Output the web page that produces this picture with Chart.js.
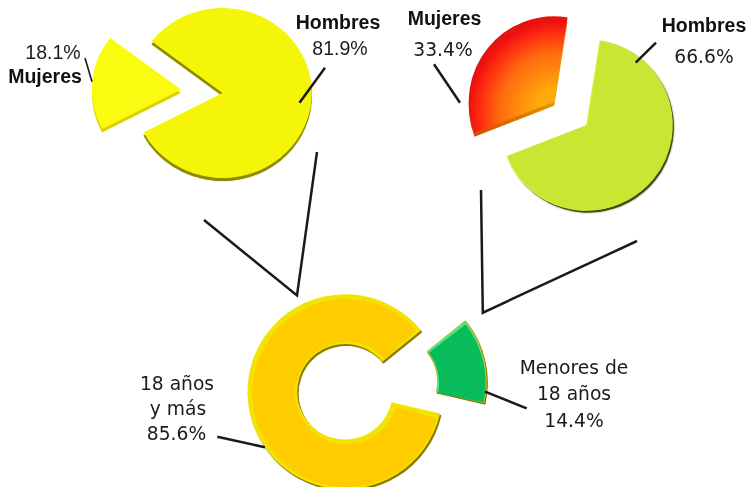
<!DOCTYPE html>
<html lang="es">
<head>
<meta charset="utf-8">
<title>Gráficos de sectores</title>
<script src="https://cdn.jsdelivr.net/npm/chart.js@4"></script>
<style>
html,body{margin:0;padding:0;background:#fff;overflow:hidden}
#stage{position:relative;width:748px;height:487px;overflow:hidden}
#stage canvas{position:absolute;left:0;top:0}
#stage svg{position:absolute;left:0;top:0}
.t{position:absolute;white-space:nowrap;color:#1c1c1c;line-height:1;transform:translate(-50%,-100%)}
.b{font:bold 19.5px "Liberation Sans",Arial,sans-serif;color:#111}
.a{font:19.5px "Liberation Sans",Arial,sans-serif}
.v{font:18.7px "DejaVu Sans",Verdana,sans-serif}
</style>
</head>
<body>
<div id="stage">
<canvas id="cLeft" width="748" height="487"></canvas>
<canvas id="cRight" width="748" height="487"></canvas>
<canvas id="cBottom" width="748" height="487"></canvas>
<svg id="lines" width="748" height="487"></svg>
</div>
<script>
// ---------- data ----------
const leftLabels = ['Hombres', 'Mujeres'];
const leftValues = [81.9, 18.1];
const rightLabels = ['Hombres', 'Mujeres'];
const rightValues = [66.6, 33.4];
const bottomLabels = ['18 años y más', 'Menores de 18 años'];
const bottomValues = [85.6, 14.4];

// ---------- text and leader lines (layout) ----------
const captions = [
  ['Hombres', 338, 30, 'b'], ['81.9%', 340, 56, 'a'],
  ['18.1%', 53, 60, 'a'], ['Mujeres', 45, 83.5, 'b'],
  ['Mujeres', 444.5, 25.5, 'b'], ['33.4%', 443, 56, 'v'],
  ['Hombres', 704, 33.2, 'b'], ['66.6%', 704, 63, 'v'],
  ['18 años', 177, 390, 'v'], ['y más', 178, 415, 'v'], ['85.6%', 176.5, 440, 'v'],
  ['Menores de', 574, 374, 'v'], ['18 años', 574, 400, 'v'], ['14.4%', 574, 427, 'v']
];
const connectors = [
  [[204, 220], [297, 295.5], [317, 152]],
  [[481, 190], [482.8, 312.7], [637, 241]]
];
const leaders = [
  [325, 67.7, 299.5, 102.7, 2.5], [85, 58, 92, 81.7, 1.6],
  [434, 64.3, 460, 102.7, 2.5], [656, 42.7, 635.7, 62.7, 2.5],
  [217.3, 436.7, 265, 447.3, 2.5], [485, 391.7, 526.7, 408.3, 2.5]
];

// ---------- paints ----------
function redFace(ctx, arc) {
  const g = ctx.createRadialGradient(arc.x + 5, arc.y + 10, 0, arc.x + 5, arc.y + 10, 100);
  g.addColorStop(0, '#FFB60A');
  g.addColorStop(0.25, '#FFA80A');
  g.addColorStop(0.6, '#FF6A0E');
  g.addColorStop(0.8, '#FF2A10');
  g.addColorStop(0.9, '#F01010');
  g.addColorStop(1, '#D81414');
  return g;
}
function redSide(ctx, arc) {
  const g = ctx.createLinearGradient(arc.x - 85, arc.y, arc.x, arc.y);
  g.addColorStop(0, '#D84600');
  g.addColorStop(1, '#DE9A00');
  return g;
}

// Each slice is painted as a stack of library arcs to give the bevelled 3-D look.
const leftStyle = [
  { explode: 0, layers: [{ dx: 0, dy: 3, color: '#8C8C00', blur: 1 }, { color: '#F4F508' }] },
  { explode: 41.6, layers: [{ dx: 0, dy: 3.5, color: '#DCD200' }, { color: '#FBFB12' }] }
];
const rightStyle = [
  { explode: 0, layers: [{ dx: 1, dy: 2, color: '#3E4A10', blur: 2 }, { dx: -1.2, dy: 0.3, color: '#DDF23C' }, { color: '#C8E632' }] },
  { explode: 39.3, layers: [{ dx: -2.5, dy: 5.5, color: redSide }, { dx: -2.5, dy: 1.5, color: redFace }] }
];
const bottomStyle = [
  { explode: 0, layers: [{ dx: 1.2, dy: 1.8, color: '#8C7A00', blur: 1 }, { color: '#F2E400' }, { dx: 1.3, dy: 1.3, inset: 3.4, color: '#FFCC00' }] },
  { explode: 45.5, layers: [{ dx: 0.8, dy: 1.2, color: '#807400', blur: 1 }, { color: '#C8BE20' }, { inset: 1, color: '#44E894' }, { dx: 0.4, dy: 1.6, inset: 1.6, color: '#08BC5C' }] }
];

function sliceStack(style, stretchX) {
  return {
    id: 'sliceStack',
    beforeDatasetDraw(chart, args) {
      const ctx = chart.ctx;
      args.meta.data.forEach((arc, i) => {
        const s = style[i];
        const mid = (arc.startAngle + arc.endAngle) / 2;
        const ex = Math.cos(mid) * s.explode, ey = Math.sin(mid) * s.explode;
        s.layers.forEach(l => {
          const inset = l.inset || 0;
          const copy = Object.create(arc);
          const meanR = (arc.outerRadius + arc.innerRadius) / 2;
          copy.outerRadius = arc.outerRadius - inset;
          copy.innerRadius = arc.innerRadius > 0 ? arc.innerRadius + inset : 0;
          copy.startAngle = arc.startAngle + inset / meanR;
          copy.endAngle = arc.endAngle - inset / meanR;
          copy.circumference = copy.endAngle - copy.startAngle;
          copy.options = Object.assign({}, arc.options, {
            backgroundColor: typeof l.color === 'function' ? l.color(ctx, arc) : l.color,
            borderWidth: 0, offset: 0
          });
          ctx.save();
          ctx.translate(ex + (l.dx || 0), ey + (l.dy || 0));
          if (stretchX !== 1) {
            ctx.translate(arc.x, arc.y);
            ctx.scale(stretchX, 1);
            ctx.translate(-arc.x, -arc.y);
          }
          if (l.blur) { ctx.shadowColor = l.color; ctx.shadowBlur = l.blur; }
          copy.draw(ctx);
          ctx.restore();
        });
      });
      return false;
    }
  };
}

function makePie(id, labels, values, colors, cx, cy, radius, cutout, rotation, style, stretchX) {
  const W = 748, H = 487;
  return new Chart(document.getElementById(id), {
    type: 'doughnut',
    data: { labels, datasets: [{ data: values, backgroundColor: colors, borderWidth: 0 }] },
    options: {
      responsive: false, animation: false, events: [],
      rotation, cutout, radius,
      layout: { padding: {
        left: Math.max(0, 2 * cx - W), right: Math.max(0, W - 2 * cx),
        top: Math.max(0, 2 * cy - H), bottom: Math.max(0, H - 2 * cy)
      } },
      plugins: { legend: { display: false }, tooltip: { enabled: false } }
    },
    plugins: [sliceStack(style, stretchX)]
  });
}

makePie('cLeft', leftLabels, leftValues, ['#F4F508', '#FBFB12'], 222.5, 93, 85, 0, 307.4, leftStyle, 1.05);
makePie('cRight', rightLabels, rightValues, ['#C8E632', '#FF3510'], 587.3, 125, 85.5, 0, 9, rightStyle, 1);
makePie('cBottom', bottomLabels, bottomValues, ['#FFCC00', '#08BC5C'], 345, 391.7, 97.5, '49%', 102.9, bottomStyle, 1);

// ---------- annotations ----------
const NS = 'http://www.w3.org/2000/svg';
const svg = document.getElementById('lines');
connectors.forEach(pts => {
  const p = document.createElementNS(NS, 'polyline');
  p.setAttribute('points', pts.map(q => q.join(',')).join(' '));
  p.setAttribute('fill', 'none');
  p.setAttribute('stroke', '#1a1a1a');
  p.setAttribute('stroke-width', '2.5');
  svg.appendChild(p);
});
leaders.forEach(([x1, y1, x2, y2, w]) => {
  const l = document.createElementNS(NS, 'line');
  l.setAttribute('x1', x1); l.setAttribute('y1', y1);
  l.setAttribute('x2', x2); l.setAttribute('y2', y2);
  l.setAttribute('stroke', '#1a1a1a');
  l.setAttribute('stroke-width', w);
  svg.appendChild(l);
});
const stage = document.getElementById('stage');
captions.forEach(([text, x, y, cls]) => {
  const d = document.createElement('div');
  d.className = 't ' + cls;
  d.textContent = text;
  d.style.left = x + 'px';
  // baseline-based placement: the line box bottom sits a little below the baseline
  d.style.top = (y + (cls === 'v' ? 4.4 : 4)) + 'px';
  stage.appendChild(d);
});
</script>
</body>
</html>
